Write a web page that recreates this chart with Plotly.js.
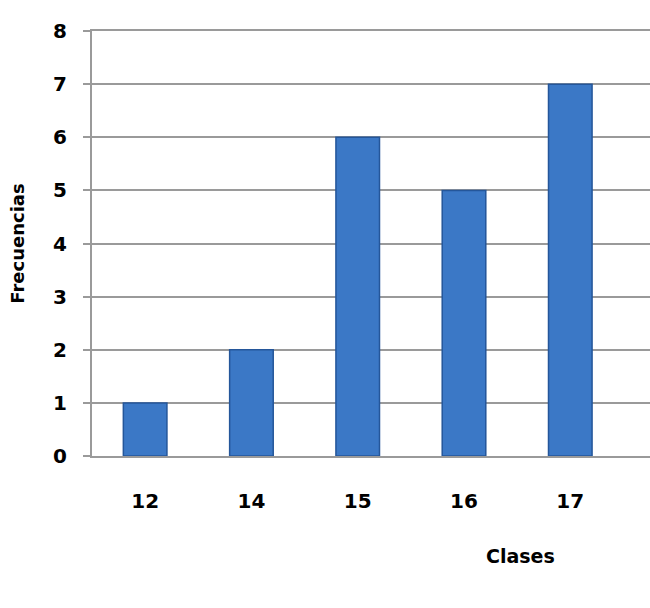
<!DOCTYPE html>
<html>
<head>
<meta charset="utf-8">
<script src="https://cdn.plot.ly/plotly-3.0.1.min.js"></script>
<style>html,body{margin:0;padding:0;background:#fff;}#chart{width:650px;height:608px;}</style>
</head>
<body>
<div id="chart"></div>
<script>
const categories = ["12", "14", "15", "16", "17"];
const frecuencias = [1, 2, 6, 5, 7];
const yTicks = [0, 1, 2, 3, 4, 5, 6, 7, 8];
const xTitle = "Clases";
const yTitle = "Frecuencias";

const font = "DejaVu Sans, Arial, sans-serif";

const data = [{
  type: "bar",
  x: categories,
  y: frecuencias,
  marker: {color: "#3b78c6", line: {color: "#24569a", width: 1.5}},
  hoverinfo: "x+y"
}];

const layout = {
  width: 650, height: 608,
  margin: {l: 92, r: 0, t: 31, b: 152},
  paper_bgcolor: "#ffffff",
  plot_bgcolor: "#ffffff",
  showlegend: false,
  bargap: 0.59,
  font: {family: font, color: "#000", size: 20},
  xaxis: {
    type: "category",
    range: [-0.5, 4.75],
    showgrid: false,
    zeroline: false,
    showline: true,
    mirror: true,
    linecolor: "#9a9a9a",
    linewidth: 2,
    ticks: "",
    ticklabelstandoff: 26,
    tickfont: {family: font, size: 20, weight: "bold", color: "#000"}
  },
  yaxis: {
    range: [0, 8],
    tickvals: yTicks,
    showgrid: true,
    gridcolor: "#9a9a9a",
    gridwidth: 2,
    zeroline: false,
    showline: true,
    linecolor: "#9a9a9a",
    linewidth: 2,
    ticks: "outside",
    ticklen: 7,
    tickcolor: "#9a9a9a",
    tickwidth: 2,
    ticklabelstandoff: 12,
    tickfont: {family: font, size: 20, weight: "bold", color: "#000"},
    title: {text: yTitle, font: {family: font, size: 18, weight: "bold", color: "#000"}, standoff: 24}
  },
  annotations: [{
    text: xTitle,
    xref: "paper", yref: "paper",
    x: (520 - 92) / 558, y: -(555 - 455) / 423,
    xanchor: "center", yanchor: "middle",
    showarrow: false,
    font: {family: font, size: 19, weight: "bold", color: "#000"}
  }]
};

Plotly.newPlot("chart", data, layout, {displayModeBar: false, staticPlot: true});
</script>
</body>
</html>
